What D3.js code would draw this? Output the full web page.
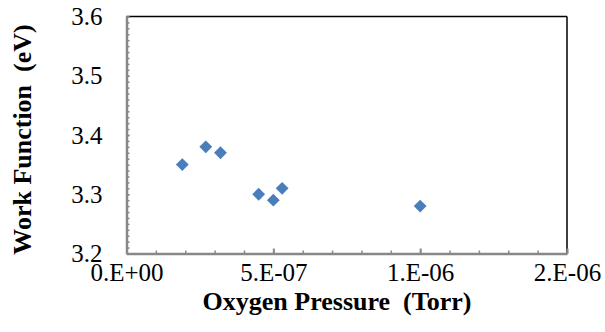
<!DOCTYPE html>
<html>
<head>
<meta charset="utf-8">
<script src="https://cdn.jsdelivr.net/npm/d3@7"></script>
<style>
  body { margin: 0; background: #fff; }
  svg { display: block; }
</style>
</head>
<body>
<div id="chart"></div>
<script>
// oxygen pressure (Torr) vs work function (eV)
const pressure = [1.9e-7, 2.7e-7, 3.2e-7, 4.5e-7, 5.0e-7, 5.3e-7, 1.0e-6];
const workFn = [3.35, 3.38, 3.37, 3.30, 3.29, 3.31, 3.28];

const xTicks = [0, 5e-7, 1e-6, 1.5e-6];
const xTickLabels = ['0.E+00', '5.E-07', '1.E-06', '2.E-06'];
const yTicks = [3.2, 3.3, 3.4, 3.5, 3.6];
const yTickLabels = ['3.2', '3.3', '3.4', '3.5', '3.6'];

const width = 605, height = 332;
const m = { left: 126.5, right: 38, top: 16.5, bottom: 78.5 };
const serif = "'Liberation Serif'";

const svg = d3.select('#chart').append('svg')
  .attr('width', width)
  .attr('height', height);

const x = d3.scaleLinear().domain([0, 1.5e-6]).range([m.left, width - m.right]);
const y = d3.scaleLinear().domain([3.2, 3.6]).range([height - m.bottom, m.top]);

const axisGray = '#888888';

// frame on top and right is black
svg.append('line')
  .attr('x1', x(0)).attr('x2', x(1.5e-6))
  .attr('y1', y(3.6)).attr('y2', y(3.6))
  .attr('stroke', '#000').attr('stroke-width', 1.5);
svg.append('line')
  .attr('x1', x(1.5e-6)).attr('x2', x(1.5e-6))
  .attr('y1', y(3.6)).attr('y2', y(3.2))
  .attr('stroke', '#000').attr('stroke-width', 1.5);

// minor ticks
const xMinor = d3.range(0, 16).map(i => i * 1e-7);
const yMinor = d3.range(0, 41).map(i => 3.2 + i * 0.01);

svg.append('g')
  .attr('transform', `translate(0,${y(3.2)})`)
  .call(d3.axisBottom(x).tickValues(xMinor).tickFormat('').tickSizeInner(-3).tickSizeOuter(0))
  .call(g => g.select('.domain').remove())
  .call(g => g.selectAll('line').attr('stroke', axisGray).attr('stroke-width', 1.5));

svg.append('g')
  .attr('transform', `translate(${x(0)},0)`)
  .call(d3.axisLeft(y).tickValues(yMinor).tickFormat('').tickSizeInner(-3).tickSizeOuter(0))
  .call(g => g.select('.domain').remove())
  .call(g => g.selectAll('line').attr('stroke', axisGray).attr('stroke-width', 1.5));

// major axes
svg.append('g')
  .attr('transform', `translate(0,${y(3.2)})`)
  .call(d3.axisBottom(x).tickValues(xTicks)
    .tickFormat((d, i) => xTickLabels[i])
    .tickSizeInner(-5).tickSizeOuter(0).tickPadding(10))
  .call(g => g.select('.domain').attr('stroke', axisGray).attr('stroke-width', 2.5))
  .call(g => g.selectAll('line').attr('stroke', axisGray).attr('stroke-width', 2))
  .call(g => g.selectAll('text')
    .style('font-family', serif).style('font-size', '25px').attr('fill', '#000'));

svg.append('g')
  .attr('transform', `translate(${x(0)},0)`)
  .call(d3.axisLeft(y).tickValues(yTicks)
    .tickFormat((d, i) => yTickLabels[i])
    .tickSizeInner(-3).tickSizeOuter(0).tickPadding(24))
  .call(g => g.select('.domain').attr('stroke', axisGray).attr('stroke-width', 2.5))
  .call(g => g.selectAll('line').attr('stroke', axisGray).attr('stroke-width', 1.5))
  .call(g => g.selectAll('text')
    .style('font-family', serif).style('font-size', '25px').attr('fill', '#000'));

// points
const diamond = d3.symbol().type(d3.symbolSquare).size(82);
svg.append('g')
  .selectAll('path')
  .data(pressure.map((p, i) => [p, workFn[i]]))
  .join('path')
  .attr('d', diamond)
  .attr('transform', d => `translate(${x(d[0])},${y(d[1])}) rotate(45)`)
  .attr('fill', '#4a7ebb');

// axis titles
svg.append('text')
  .attr('x', 337)
  .attr('y', 310)
  .attr('text-anchor', 'middle')
  .style('font-family', serif)
  .style('font-size', '26px')
  .style('font-weight', 'bold')
  .style('white-space', 'pre')
  .text('Oxygen Pressure  (Torr)');

svg.append('text')
  .attr('transform', 'translate(31,139.5) rotate(-90)')
  .attr('text-anchor', 'middle')
  .style('font-family', serif)
  .style('font-size', '26px')
  .style('font-weight', 'bold')
  .style('white-space', 'pre')
  .text('Work Function  (eV)');
</script>
</body>
</html>
